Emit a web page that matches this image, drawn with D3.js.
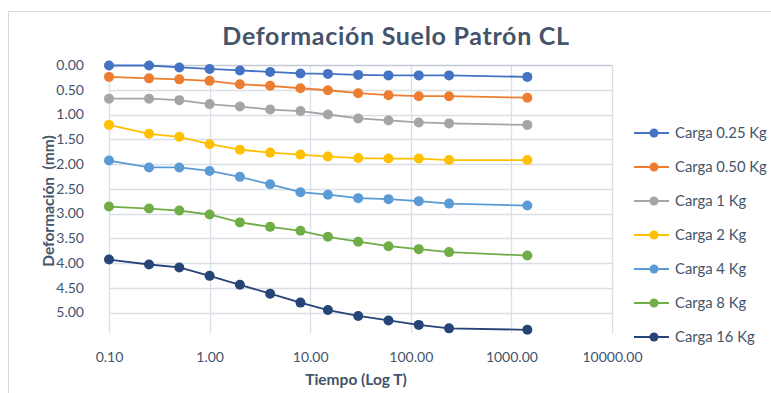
<!DOCTYPE html>
<html>
<head>
<meta charset="utf-8">
<script src="https://cdn.jsdelivr.net/npm/d3@7/dist/d3.min.js"></script>
<style>
  html, body { margin: 0; padding: 0; background: #fff; }
  svg { display: block; font-family: Lato, "Open Sans", sans-serif; }
</style>
</head>
<body>
<svg id="chart" width="771" height="393"></svg>
<script>
const times = [0.1, 0.25, 0.5, 1, 2, 4, 8, 15, 30, 60, 120, 240, 1440];
const seriesNames = ["Carga 0.25 Kg", "Carga 0.50 Kg", "Carga 1 Kg", "Carga 2 Kg", "Carga 4 Kg", "Carga 8 Kg", "Carga 16 Kg"];
const carga025 = [0.01, 0.01, 0.05, 0.08, 0.11, 0.14, 0.17, 0.18, 0.20, 0.21, 0.21, 0.21, 0.24];
const carga050 = [0.24, 0.27, 0.29, 0.32, 0.39, 0.42, 0.47, 0.51, 0.57, 0.61, 0.63, 0.63, 0.66];
const carga1 = [0.68, 0.68, 0.71, 0.79, 0.84, 0.90, 0.93, 1.00, 1.08, 1.12, 1.16, 1.18, 1.21];
const carga2 = [1.21, 1.39, 1.45, 1.60, 1.71, 1.77, 1.81, 1.85, 1.88, 1.89, 1.89, 1.92, 1.92];
const carga4 = [1.93, 2.07, 2.07, 2.14, 2.26, 2.41, 2.57, 2.62, 2.69, 2.71, 2.75, 2.80, 2.84];
const carga8 = [2.86, 2.90, 2.94, 3.02, 3.18, 3.27, 3.35, 3.47, 3.57, 3.66, 3.72, 3.78, 3.85];
const carga16 = [3.93, 4.03, 4.09, 4.26, 4.44, 4.62, 4.80, 4.95, 5.07, 5.16, 5.25, 5.32, 5.35];
const seriesValues = [carga025, carga050, carga1, carga2, carga4, carga8, carga16];
const colors = ["#4472C4", "#ED7D31", "#A5A5A5", "#FFC000", "#5B9BD5", "#70AD47", "#264478"];
const xTicks = [0.1, 1, 10, 100, 1000, 10000];
const yTicks = [0, 0.5, 1, 1.5, 2, 2.5, 3, 3.5, 4, 4.5, 5];
const titleText = "Deformación Suelo Patrón CL";
const xTitle = "Tiempo (Log T)";
const yTitle = "Deformación  (mm)";

const svg = d3.select("#chart");
const textColor = "#44546A";
const gridColor = "#D9DEE7";

// chart border
svg.append("rect").attr("x", 8.5).attr("y", 11.5).attr("width", 800).attr("height", 420)
  .attr("fill", "none").attr("stroke", "#D9D9D9").attr("stroke-width", 1);

const plot = { left: 109, right: 612, top: 65, bottom: 333 };
const x = d3.scaleLog().domain([0.1, 10000]).range([plot.left, plot.right]);
const y = d3.scaleLinear().domain([0, (plot.bottom - plot.top) / 49.5]).range([plot.top, plot.bottom]);

// grid
const g = svg.append("g");
g.selectAll(".hg").data(yTicks.filter(d => d > 0)).join("line")
  .attr("x1", plot.left).attr("x2", plot.right)
  .attr("y1", d => Math.round(y(d)) + 0.5).attr("y2", d => Math.round(y(d)) + 0.5)
  .attr("stroke", gridColor).attr("stroke-width", 1.3);
g.selectAll(".vg").data(xTicks).join("line")
  .attr("x1", d => Math.round(x(d)) + 0.5).attr("x2", d => Math.round(x(d)) + 0.5)
  .attr("y1", plot.top).attr("y2", plot.bottom)
  .attr("stroke", gridColor).attr("stroke-width", 1.3);
// axis line at top (reversed axis)
g.append("line").attr("x1", plot.left).attr("x2", plot.right)
  .attr("y1", Math.round(y(0)) + 0.5).attr("y2", Math.round(y(0)) + 0.5)
  .attr("stroke", "#C3C9D4").attr("stroke-width", 1.5);

// y tick labels
const yAxis = d3.axisLeft(y).tickValues(yTicks).tickFormat(d3.format(".2f")).tickSize(0).tickPadding(0);
const ya = svg.append("g").attr("transform", `translate(84,0)`).call(yAxis);
ya.select(".domain").remove();
ya.selectAll("text").attr("fill", textColor).style("font-size", "14px").style("font-family", "Lato, sans-serif");

// x tick labels
const xAxis = d3.axisBottom(x).tickValues(xTicks).tickFormat(d3.format(".2f")).tickSize(0).tickPadding(0);
const xa = svg.append("g").attr("transform", `translate(0,352)`).call(xAxis);
xa.select(".domain").remove();
xa.selectAll("text").attr("fill", textColor).style("font-size", "14px").style("font-family", "Lato, sans-serif");

// lines and markers
const line = d3.line().x((d, i) => x(times[i])).y(d => y(d));
seriesValues.forEach((vals, k) => {
  svg.append("path").datum(vals).attr("d", line)
    .attr("fill", "none").attr("stroke", colors[k]).attr("stroke-width", 1.8);
  svg.append("g").selectAll("circle").data(vals).join("circle")
    .attr("cx", (d, i) => x(times[i])).attr("cy", d => y(d)).attr("r", 5)
    .attr("fill", colors[k]);
});

// title
svg.append("text").attr("x", 396).attr("y", 45).attr("text-anchor", "middle")
  .attr("fill", textColor).style("font-size", "25px").style("font-weight", "bold")
  .style("letter-spacing", "0.7px").text(titleText);

// axis titles
svg.append("text").attr("x", 356).attr("y", 385).attr("text-anchor", "middle")
  .attr("fill", textColor).style("font-size", "15.5px").style("font-weight", "bold").text(xTitle);
svg.append("text").attr("transform", "translate(54,201) rotate(-90)").attr("text-anchor", "middle")
  .attr("fill", textColor).style("font-size", "15.5px").style("font-weight", "bold").style("white-space", "pre").text(yTitle);

// legend
const leg = svg.append("g");
seriesNames.forEach((name, k) => {
  const ly = 133 + k * 34;
  leg.append("line").attr("x1", 634).attr("x2", 669).attr("y1", ly).attr("y2", ly)
    .attr("stroke", colors[k]).attr("stroke-width", 1.8);
  leg.append("circle").attr("cx", 654).attr("cy", ly).attr("r", 4.5).attr("fill", colors[k]);
  leg.append("text").attr("x", 675).attr("y", ly + 5).attr("fill", textColor)
    .style("font-size", "14.8px").text(name);
});
</script>
</body>
</html>
